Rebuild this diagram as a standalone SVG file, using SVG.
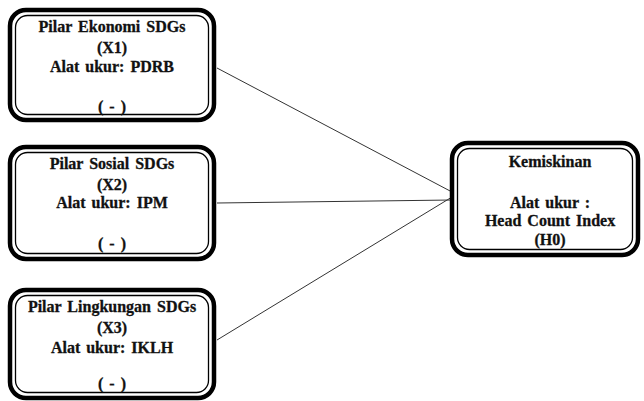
<svg xmlns="http://www.w3.org/2000/svg" width="644" height="401" viewBox="0 0 644 401">
<style>
.outer{fill:#fff;stroke:#000;stroke-width:4.5}
.inner{fill:none;stroke:#000;stroke-width:1.3}
.t{font-family:"Liberation Serif","Times New Roman",serif;font-weight:bold;font-size:16px;fill:#111;text-anchor:middle;word-spacing:2px;stroke:#111;stroke-width:0.3}
.c{stroke:#333;stroke-width:1;fill:none}
</style>
<rect width="644" height="401" fill="#fff"/>
<g id="connectors">
<line class="c" x1="217" y1="68" x2="452" y2="192"/>
<line class="c" x1="217" y1="203" x2="452" y2="200"/>
<line class="c" x1="217" y1="340" x2="452" y2="197"/>
</g>
<g id="x1">
<rect class="outer" x="10" y="10" width="204" height="110" rx="16"/>
<rect class="inner" x="15.5" y="15.5" width="193" height="99" rx="12"/>
<text class="t" x="112" y="32">Pilar Ekonomi SDGs</text>
<text class="t" x="112" y="53">(X1)</text>
<text class="t" x="112" y="72">Alat ukur: PDRB</text>
<text class="t" x="112" y="112">( - )</text>
</g>
<g id="x2">
<rect class="outer" x="10" y="147" width="204" height="112" rx="16"/>
<rect class="inner" x="15.5" y="152.5" width="193" height="101" rx="12"/>
<text class="t" x="112" y="169">Pilar Sosial SDGs</text>
<text class="t" x="112" y="190">(X2)</text>
<text class="t" x="112" y="208">Alat ukur: IPM</text>
<text class="t" x="112" y="249">( - )</text>
</g>
<g id="x3">
<rect class="outer" x="10" y="290" width="204" height="108" rx="16"/>
<rect class="inner" x="15.5" y="295.5" width="193" height="97" rx="12"/>
<text class="t" x="112" y="312">Pilar Lingkungan SDGs</text>
<text class="t" x="112" y="333">(X3)</text>
<text class="t" x="112" y="353">Alat ukur: IKLH</text>
<text class="t" x="112" y="389">( - )</text>
</g>
<g id="h0">
<rect class="outer" x="452" y="143" width="186" height="112" rx="16"/>
<rect class="inner" x="457.5" y="148.5" width="175" height="101" rx="12"/>
<text class="t" x="550" y="167">Kemiskinan</text>
<text class="t" x="550" y="208">Alat ukur :</text>
<text class="t" x="550" y="226">Head Count Index</text>
<text class="t" x="550" y="245">(H0)</text>
</g>
</svg>
